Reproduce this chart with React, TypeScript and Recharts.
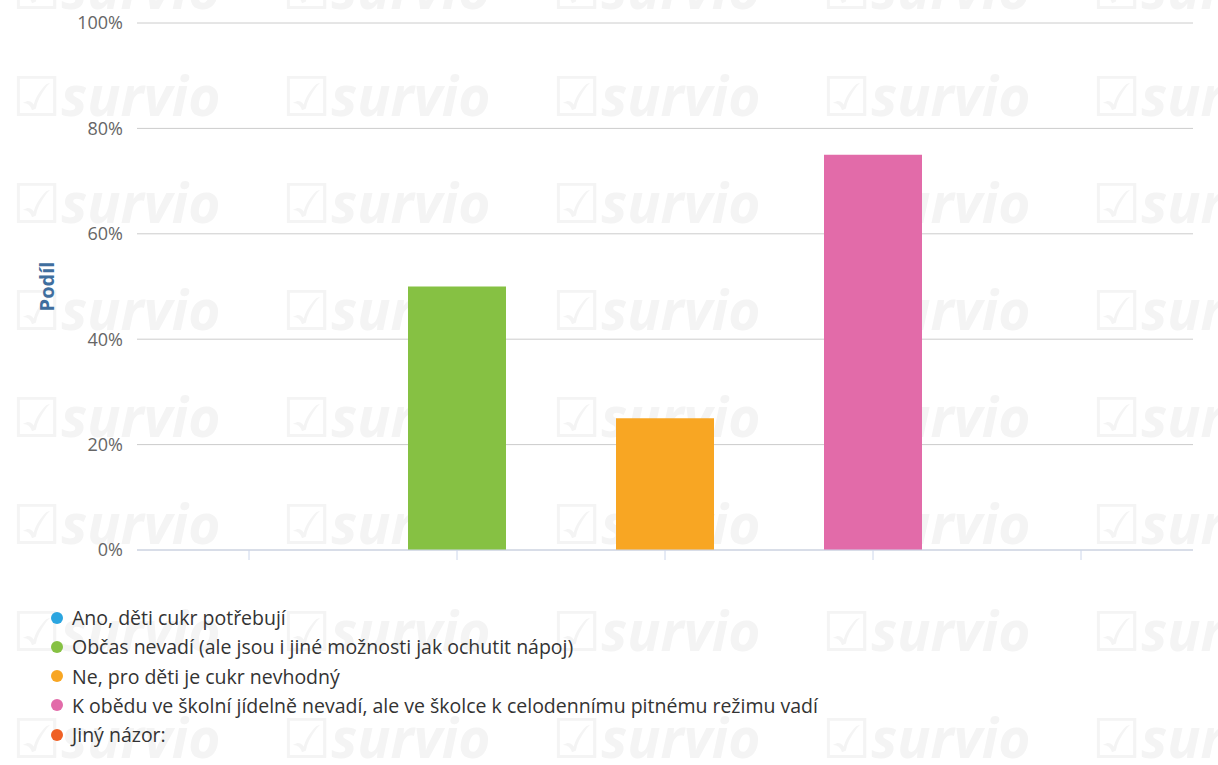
import React from 'react';
import { BarChart, Bar, XAxis, YAxis, CartesianGrid, Cell } from 'recharts';

const categories = [
  'Ano, děti cukr potřebují',
  'Občas nevadí (ale jsou i jiné možnosti jak ochutit nápoj)',
  'Ne, pro děti je cukr nevhodný',
  'K obědu ve školní jídelně nevadí, ale ve školce k celodennímu pitnému režimu vadí',
  'Jiný názor:',
];
const shares = [0, 50, 25, 75, 0];
const colors = ['#2ba5e0', '#86c143', '#f8a623', '#e26ba9', '#ef6025'];
const yTicks = [0, 20, 40, 60, 80, 100];
const watermarkRows = [0, 1, 2, 3, 4, 5, 6, 7];
const watermarkCols = [0, 1, 2, 3, 4];

const data = categories.map((name, i) => ({ name, value: shares[i] }));

const FONT = '"Open Sans", "DejaVu Sans", sans-serif';

export default function App() {
  return (
    <div style={{ position: 'absolute', left: 0, top: 0, width: 1218, height: 765, background: '#fff', overflow: 'hidden' }}>
      <div style={{ position: 'absolute', left: 0, top: 0, width: 1218, height: 765 }}>
        {watermarkRows.map((r) =>
          watermarkCols.map((c) => (
            <div
              key={r + '-' + c}
              style={{
                position: 'absolute',
                left: 12 + c * 270,
                top: -50 + r * 107,
                fontFamily: FONT,
                fontStyle: 'italic',
                fontWeight: 700,
                fontSize: 55,
                color: '#f4f4f4',
                whiteSpace: 'nowrap',
              }}
            >
              ☑survio
            </div>
          ))
        )}
      </div>
      <div style={{ position: 'absolute', left: 0, top: 0 }}>
        <BarChart
          width={1218}
          height={580}
          data={data}
          margin={{ top: 23, right: 25, left: 37, bottom: 10 }}
        >
          <CartesianGrid horizontal vertical={false} stroke="#cccccc" />
          <XAxis
            dataKey="name"
            padding={{ left: 8, right: 8 }}
            tick={() => <g />}
            tickLine={{ stroke: '#ccd6eb' }}
            tickSize={10}
            axisLine={{ stroke: '#ccd6eb' }}
            height={20}
            interval={0}
          />
          <YAxis
            width={100}
            domain={[0, 100]}
            ticks={yTicks}
            tickFormatter={(v) => v + '%'}
            axisLine={false}
            tickLine={false}
            tickSize={0}
            tickMargin={14}
            tick={{ fill: '#666', fontSize: 18, fontFamily: FONT }}
            label={{
              value: 'Podíl',
              angle: -90,
              position: 'insideLeft',
              offset: 10,
              style: { fill: '#3f6e9e', fontWeight: 700, fontSize: 20, fontFamily: FONT, textAnchor: 'middle' },
            }}
          />
          <Bar dataKey="value" barSize={98} isAnimationActive={false}>
            {data.map((d, i) => (
              <Cell key={d.name} fill={colors[i]} />
            ))}
          </Bar>
        </BarChart>
      </div>
      <div style={{ position: 'absolute', left: 51, top: 603, fontFamily: FONT, fontSize: 19.5, color: '#333' }}>
        {categories.map((c, i) => (
          <div key={c} style={{ display: 'flex', alignItems: 'center', height: 29.25, whiteSpace: 'nowrap' }}>
            <span
              style={{
                display: 'inline-block',
                width: 12,
                height: 12,
                borderRadius: '50%',
                background: colors[i],
                marginRight: 9,
              }}
            />
            <span>{c}</span>
          </div>
        ))}
      </div>
    </div>
  );
}
